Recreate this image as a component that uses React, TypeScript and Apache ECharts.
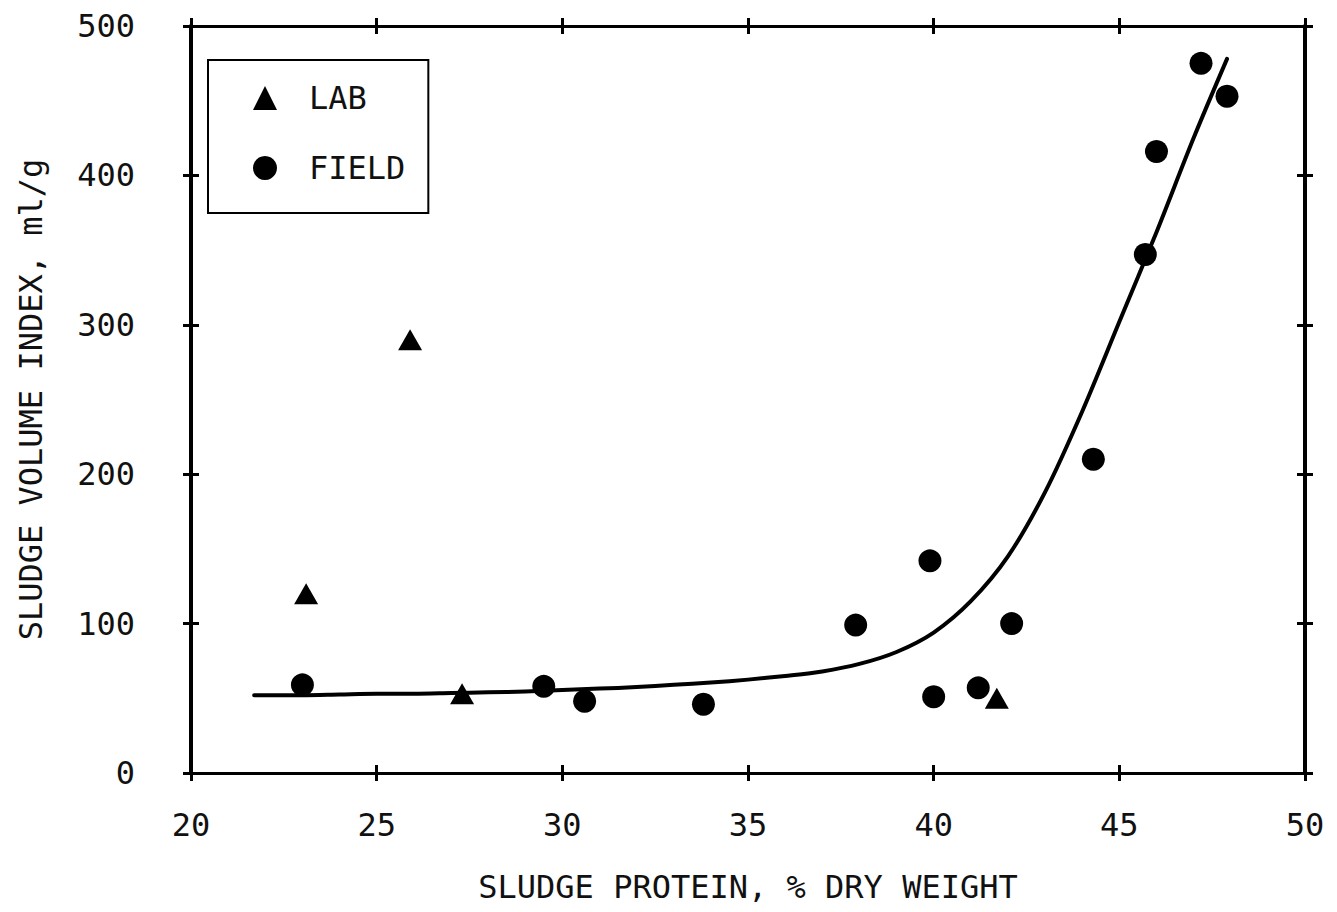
import React, { useEffect, useRef } from "react";
import * as echarts from "echarts";

// Axis ranges and tick steps
const xRange = [20, 50];
const xStep = 5;
const yRange = [0, 500];
const yStep = 100;

// Laboratory reactor samples (triangles)
const labProtein = [23.1, 25.9, 27.3, 41.7];
const labSvi = [120, 290, 53, 50];

// Full-scale plant samples (circles)
const fieldProtein = [23.0, 29.5, 30.6, 33.8, 37.9, 39.9, 40.0, 41.2, 42.1, 44.3, 45.7, 46.0, 47.2, 47.9];
const fieldSvi = [59, 58, 48, 46, 99, 142, 51, 57, 100, 210, 347, 416, 475, 453];

// Hand-fitted trend curve
const curveProtein = [21.7, 23, 24, 25, 26, 27, 28, 29, 30, 31, 32, 33, 34, 35, 36, 37, 38, 39, 40, 41, 42, 43, 44, 45, 46, 47, 47.9];
const curveSvi = [52, 52, 52.5, 53, 53, 53.5, 54, 54.5, 55.5, 56.5, 57.5, 59, 60.5, 62.5, 65, 68, 73, 81, 94, 115, 145, 188, 242, 302, 362, 425, 478];

const FONT = "'DejaVu Sans Mono', 'Liberation Mono', monospace";
const INK = "#000";

const pairs = (xs: number[], ys: number[]) => xs.map((x, i) => [x, ys[i]]);

export default function App() {
  const ref = useRef<HTMLDivElement>(null);

  useEffect(() => {
    if (!ref.current) return;
    const chart = echarts.init(ref.current, undefined, { renderer: "svg" });

    const tick = (inside: boolean) => ({
      show: true,
      inside,
      length: 8,
      lineStyle: { color: INK, width: 3 },
    });

    const xAxisOf = (position: "top" | "bottom", inside: boolean, main = false) => ({
      type: "value",
      position,
      min: xRange[0],
      max: xRange[1],
      interval: xStep,
      splitLine: { show: false },
      axisLine: { show: !inside, onZero: false, lineStyle: { color: INK, width: 3 } },
      axisTick: tick(inside),
      axisLabel: main
        ? { show: true, margin: 36, color: "#111", fontFamily: FONT, fontSize: 32 }
        : { show: false },
      name: main ? "SLUDGE PROTEIN, % DRY WEIGHT" : "",
      nameLocation: "middle",
      nameGap: 98,
      nameTextStyle: { color: "#111", fontFamily: FONT, fontSize: 32 },
    });

    const yAxisOf = (position: "left" | "right", inside: boolean, main = false) => ({
      type: "value",
      position,
      min: yRange[0],
      max: yRange[1],
      interval: yStep,
      splitLine: { show: false },
      axisLine: { show: !inside, onZero: false, lineStyle: { color: INK, width: 4 } },
      axisTick: tick(inside),
      axisLabel: main
        ? {
            show: true,
            margin: 56,
            color: "#111",
            fontFamily: FONT,
            fontSize: 32,
            padding: [0, 0, 12, 0],
          }
        : { show: false },
      name: main ? "SLUDGE VOLUME INDEX, ml/g" : "",
      nameLocation: "middle",
      nameGap: 144,
      nameTextStyle: { color: "#111", fontFamily: FONT, fontSize: 32 },
    });

    chart.setOption({
      animation: false,
      backgroundColor: "#fff",
      grid: { left: 191, right: 32, top: 26, bottom: 139, containLabel: false },
      xAxis: [
        xAxisOf("bottom", false, true),
        xAxisOf("bottom", true),
        xAxisOf("top", false),
        xAxisOf("top", true),
      ],
      yAxis: [
        yAxisOf("left", false, true),
        yAxisOf("left", true),
        yAxisOf("right", false),
        yAxisOf("right", true),
      ],
      legend: {
        orient: "vertical",
        left: 208,
        top: 60,
        selectedMode: false,
        data: ["LAB", "FIELD"],
        itemWidth: 24,
        itemHeight: 24,
        itemGap: 38,
        padding: [22, 23, 29, 45],
        borderColor: INK,
        borderWidth: 2,
        borderRadius: 0,
        textStyle: {
          color: "#111",
          fontFamily: FONT,
          fontSize: 32,
          padding: [0, 0, 0, 27],
        },
      },
      series: [
        {
          name: "TREND",
          type: "line",
          xAxisIndex: 0,
          yAxisIndex: 0,
          data: pairs(curveProtein, curveSvi),
          smooth: 0.3,
          showSymbol: false,
          symbol: "none",
          lineStyle: { color: INK, width: 4, cap: "round", join: "round" },
          silent: true,
          z: 2,
        },
        {
          name: "LAB",
          type: "scatter",
          xAxisIndex: 0,
          yAxisIndex: 0,
          data: pairs(labProtein, labSvi),
          symbol: "triangle",
          symbolSize: [24, 21],
          itemStyle: { color: INK, opacity: 1 },
          z: 3,
        },
        {
          name: "FIELD",
          type: "scatter",
          xAxisIndex: 0,
          yAxisIndex: 0,
          data: pairs(fieldProtein, fieldSvi),
          symbol: "circle",
          symbolSize: 23,
          itemStyle: { color: INK, opacity: 1 },
          z: 3,
        },
      ],
    });

    return () => chart.dispose();
  }, []);

  return (
    <div
      ref={ref}
      style={{ position: "fixed", left: 0, top: 0, width: 1337, height: 912, background: "#fff" }}
    />
  );
}
